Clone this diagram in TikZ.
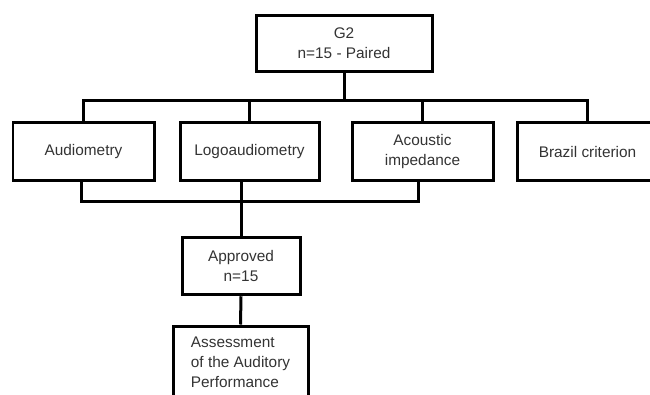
\documentclass[tikz,border=0pt]{standalone}
\usepackage{fontspec}
\setmainfont{Liberation Sans}
\begin{document}
\begin{tikzpicture}[
    % Style for the rectangular boxes
    box/.style={draw=black, line width=0.06cm, minimum height=1.15cm, inner sep=2pt,
        text=black!80, font=\fontsize{8.75}{11.3}\selectfont, align=center},
    % Style for the elbow connectors
    conn/.style={draw=black, line width=0.06cm}
]
    \useasboundingbox (0,0) rectangle (13,-7.88);

    % --- 1. Define Coordinates ---
    \coordinate (top) at (6.88, -0.86);
    \coordinate (p1) at (1.67, -3.03);
    \coordinate (p2) at (4.99, -3.03);
    \coordinate (p3) at (8.45, -3.03);
    \coordinate (p4) at (11.75, -3.03);
    \coordinate (p5) at (4.82, -5.32);
    \coordinate (p6) at (4.81, -7.24);

    \coordinate (busTop) at (6.88, -2.0);
    \coordinate (busL) at (1.62, -4.02);
    \coordinate (busR) at (8.36, -4.02);

    % --- 2. Draw Nodes ---
    \node[box, minimum width=3.52cm, minimum height=1.12cm] (g2) at (top) {G2\\n=15 - Paired};
    \node[box, minimum width=2.82cm] (aud) at (p1) {Audiometry};
    \node[box, minimum width=2.78cm] (logo) at (p2) {Logoaudiometry};
    \node[box, minimum width=2.82cm] (ac) at (p3) {Acoustic\\impedance};
    \node[box, minimum width=2.82cm] (bra) at (p4) {Brazil criterion};
    \node[box, minimum width=2.36cm] (appr) at (p5) {Approved\\n=15};
    \node[box, minimum width=2.70cm, minimum height=1.44cm, align=left] (assess) at (p6)
        {Assessment\\of the Auditory\\Performance};

    % --- 3. Draw Connectors ---
    % Upper branch
    \draw[conn] (g2.south) -- (busTop);
    \draw[conn] (aud.north) |- (busTop) -| (bra.north);
    \draw[conn] (logo.north) -- (logo.north |- busTop);
    \draw[conn] (ac.north) -- (ac.north |- busTop);

    % Lower branch
    \draw[conn] (aud.south -| busL) -- (busL) -- (busR) -- (ac.south -| busR);
    \draw[conn] (logo.south -| appr.north) -- (appr.north);
    \draw[conn] (appr.south) -- (assess.north);

\end{tikzpicture}
\end{document}
